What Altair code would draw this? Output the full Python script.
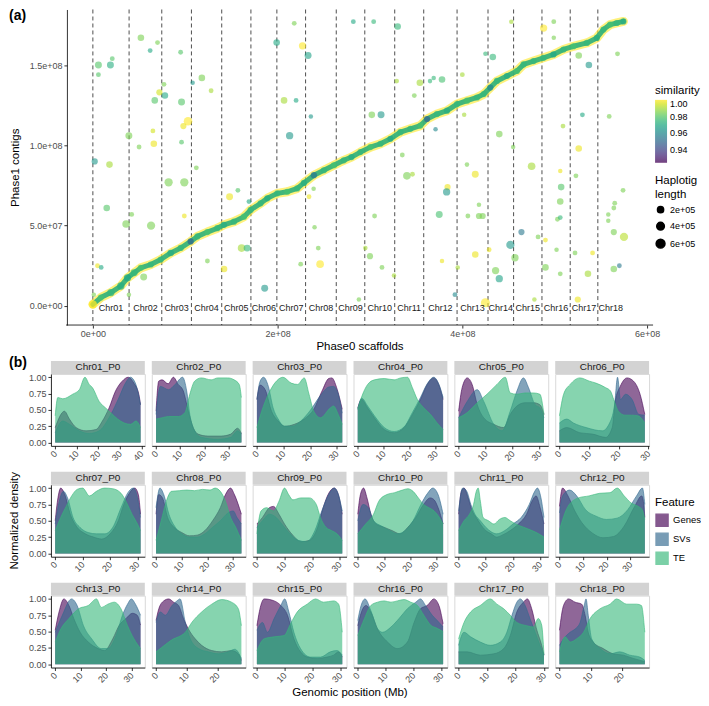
import altair as alt
import pandas as pd

FONT = "Liberation Sans"

# ---------------- panel (a) data ----------------
CHR_NAMES = ["Chr01", "Chr02", "Chr03", "Chr04", "Chr05", "Chr06", "Chr07", "Chr08", "Chr09",
             "Chr10", "Chr11", "Chr12", "Chr13", "Chr14", "Chr15", "Chr16", "Chr17", "Chr18"]
CHR_START_MB = [0.0, 39.2, 74.6, 106.7, 139.5, 171.1, 199.2, 230.3, 263.5,
                294.4, 326.8, 358.2, 394.3, 427.8, 455.5, 486.2, 516.8, 546.7]
GENOME_END_MB = 574.5
X_TICKS = [0, 2e8, 4e8, 6e8]
Y_TICKS = [0, 5e7, 1e8, 1.5e8]

DIAG_X_MB = [0, 8.6, 19.5, 30.3, 37.5, 44.7, 51.9, 62.7, 73.5, 84.3,
             95.1, 105.9, 113.2, 124, 134.8, 142, 152.8, 163.6, 170.8, 181.6,
             188.9, 199.7, 210.5, 221.3, 228.5, 239.3, 250.1, 260.9, 271.7, 280,
             289.7, 300.5, 311.4, 322.2, 333, 343.8, 354.6, 361.8, 372.6, 383.4,
             394.3, 405.1, 415.9, 423.1, 430.3, 437.5, 448.3, 459.1, 466.3, 477.1,
             487.9, 498.7, 509.5, 520.3, 534.8, 545.6, 552.8, 560, 567.2, 574.4]
DIAG_Y_MB = [1, 5.2, 8.3, 12.4, 17.5, 20.6, 23.7, 25.8, 28.9, 33,
             36.1, 40.2, 43.3, 46, 48.4, 50.5, 52.5, 55.6, 59.8, 63.9,
             67, 70.1, 71.1, 73.2, 76.6, 81.4, 84.5, 87.6, 90.7, 92.7,
             95.8, 98.9, 101, 104.1, 108.2, 110.3, 112.3, 116.4, 119.5, 121.6,
             125.7, 127.8, 129.8, 131.9, 136, 140.1, 143.2, 146.3, 150.4, 152.5,
             154.5, 156.6, 159.7, 161.7, 163.8, 166.9, 172.1, 175.2, 176.2, 177.2]
DIAG_SIM = [1.0, 0.978, 0.975, 0.972, 0.97, 0.975, 0.978, 0.975, 0.975, 0.972,
            0.975, 0.95, 0.975, 0.978, 0.975, 0.972, 0.975, 0.978, 0.975, 0.975,
            0.972, 0.975, 0.978, 0.975, 0.972, 0.955, 0.975, 0.978, 0.975, 0.972,
            0.975, 0.978, 0.975, 0.97, 0.975, 0.975, 0.978, 0.95, 0.975, 0.972,
            0.975, 0.978, 0.975, 0.975, 0.96, 0.975, 0.972, 0.978, 0.975, 0.975,
            0.975, 0.97, 0.975, 0.978, 0.975, 0.972, 0.975, 0.978, 0.975, 0.972]
DIAG_LEN_1E5 = [5, 2, 3.5, 3.5, 3.5, 3, 2, 2, 2, 2.5,
                2, 2, 2, 2, 2, 2, 2, 2, 2, 2,
                2, 2, 2, 2, 2, 2, 2, 2, 2, 2,
                2, 2, 2, 2, 2, 2, 2, 2, 2, 2,
                2, 2, 2, 2, 2, 2, 2, 2, 2, 2,
                2, 2, 2, 2, 2, 2, 2, 2, 2, 2]
HALO_COLOR = "#FDE725"   # viridis at similarity 1.00
CORE_COLOR = "#2FAF7B"   # viridis near similarity 0.975

SCAT_X_MB = [6, 6, 19, 21, 52, 70, 62, 95, 77, 78,
             67, 72, 96, 103, 98, 65, 66, 96, 50, 39,
             108, 118, 128, 2, 18, 112, 82, 99, 15, 42,
             36, 63, 99, 148, 157, 169, 161, 167, 124, 142,
             5, 9, 55, 39, 1, 186, 199, 218, 227, 233,
             207, 220, 236, 213, 239, 234, 240, 244, 246, 225,
             282, 288, 304, 330, 329, 354, 365, 369, 378, 348,
             302, 312, 371, 335, 340, 346, 400, 402, 425, 433,
             453, 488, 499, 499, 568, 526, 537, 530, 559, 509,
             440, 455, 526, 475, 405, 414, 506, 523, 507, 384,
             383, 506, 418, 574, 565, 564, 558, 558, 375, 305,
             406, 418, 422, 503, 506, 564, 575, 464, 482, 490,
             452, 295, 300, 429, 414, 457, 502, 522, 541, 378,
             313, 395, 436, 440, 490, 506, 536, 564, 570, 326,
             392, 425, 478, 525]
SCAT_Y_MB = [150, 144, 150, 154, 167, 164, 159, 158, 138, 131,
             128, 133, 127, 115, 112, 109, 101, 102, 99, 106,
             139, 142, 134, 90, 88, 86, 77, 77, 61, 57,
             51, 50, 56, 68, 72, 65, 36, 36, 28, 23,
             25, 24, 18, 7, 7, 11, 164, 176, 162, 156,
             128, 128, 118, 106, 73, 68, 49, 36, 26, 26,
             177, 4, 177, 174, 140, 139, 140, 142, 141, 131,
             119, 119, 110, 94, 81, 82, 144, 119, 157, 155,
             177, 173, 177, 167, 157, 156, 150, 119, 118, 112,
             107, 99, 98, 87, 88, 82, 84, 81, 74, 74,
             71, 65, 63, 72, 64, 61, 57, 53, 57, 56,
             56, 56, 56, 54, 55, 46, 43, 46, 43, 41,
             38, 36, 31, 35, 32, 30, 35, 33, 33, 28,
             24, 24, 22, 17, 24, 20, 20, 23, 25, 19,
             7, 2, 4, 4]
SCAT_SIM = [0.98, 0.98, 0.972, 0.98, 0.985, 0.985, 0.97, 0.98, 0.985, 0.97,
            0.98, 0.995, 0.98, 1.0, 0.998, 0.995, 0.998, 0.98, 0.985, 0.985,
            0.965, 0.985, 0.99, 0.965, 0.99, 0.985, 0.985, 0.985, 0.98, 0.985,
            0.985, 0.985, 0.998, 0.998, 0.98, 0.97, 0.99, 0.975, 0.985, 0.998,
            0.998, 0.97, 0.985, 0.985, 0.985, 0.965, 0.97, 0.985, 1.0, 0.968,
            0.99, 0.97, 0.965, 0.965, 0.985, 0.998, 0.985, 0.985, 1.0, 0.985,
            0.97, 0.985, 0.975, 0.975, 0.99, 0.99, 0.975, 0.975, 0.978, 0.985,
            0.985, 0.965, 0.96, 0.985, 0.985, 0.99, 0.99, 0.99, 0.975, 0.975,
            0.99, 1.0, 0.985, 0.985, 0.985, 0.985, 0.965, 0.97, 0.985, 0.99,
            0.985, 0.985, 0.998, 0.99, 0.985, 0.998, 0.998, 0.985, 0.98, 0.998,
            0.965, 0.985, 0.985, 0.985, 0.985, 0.985, 0.985, 0.985, 0.978, 0.985,
            0.985, 0.985, 0.985, 0.985, 0.975, 0.985, 0.992, 0.955, 0.985, 0.998,
            0.965, 0.99, 0.985, 0.998, 0.998, 0.985, 0.985, 0.985, 0.998, 0.998,
            0.985, 0.99, 0.985, 0.968, 0.985, 0.985, 0.99, 0.985, 0.955, 0.99,
            0.96, 1.0, 0.99, 0.998]
SCAT_LEN_1E5 = [3, 0.5, 3, 0.5, 2.5, 0.5, 0.5, 0.5, 0.5, 2.5,
                2.5, 2, 3, 5.5, 2, 0.5, 2.5, 0.5, 0.5, 3,
                0.2, 2.5, 0.5, 2, 2.5, 0.5, 5, 5, 2.5, 0.5,
                4, 5, 0.5, 3, 0.5, 0.5, 4, 3, 0.5, 2.5,
                0.5, 0.5, 3, 0.2, 0.2, 3, 2.5, 0.5, 3.5, 3,
                2.5, 0.5, 0.2, 3.5, 0.2, 0.5, 0.2, 0.5, 4, 0.5,
                0.5, 0.2, 0.5, 2.5, 0.2, 2.5, 0.2, 0.2, 2.5, 0.5,
                2.5, 3, 0.2, 0.5, 4, 0.5, 0.5, 0.2, 0.2, 2.5,
                0.2, 3.5, 0.5, 0.2, 0.5, 2.5, 2.5, 0.5, 0.5, 0.5,
                2.5, 0.2, 2.5, 4, 0.2, 3, 0.2, 0.5, 2.5, 2,
                3.5, 2.5, 0.2, 0.5, 0.5, 0.5, 0.2, 0.2, 3, 0.5,
                0.5, 2, 2, 0.5, 0.5, 2, 5, 2, 0.5, 0.5,
                5, 0.2, 2, 0.5, 2.5, 3.5, 0.2, 0.5, 0.5, 0.2,
                0.5, 0.2, 3.5, 3.5, 2.5, 0.5, 2.5, 2.5, 0.5, 0.2,
                0.5, 6.5, 0.2, 2]

# ---------------- panel (b) data ----------------
FACET_LEN_MB = [39.6, 35.4, 32.1, 32.8, 31.6, 28.8, 31.1, 33.2, 30.9,
                32.4, 31.4, 36.1, 33.5, 27.7, 30.7, 30.6, 29.9, 27.3]
FEATURES = ["Genes", "SVs", "TE"]
FEATURE_COLORS = ["#440154", "#31688E", "#35B779"]
FACET_X_TICKS = [0, 10, 20, 30, 40]
FACET_Y_TICKS = [0, 0.25, 0.5, 0.75, 1.0]

CHR01_GENES = [(0, 0.23), (4.3, 0.48), (6.6, 0.36), (9.7, 0.23), (14.3, 0.18), (18.9, 0.2), (21.9, 0.33), (25, 0.53), (28, 0.79), (31.1, 0.94), (33.9, 1.0), (36.5, 0.91), (38.8, 0.74), (39.6, 0.58)]
CHR01_SVS = [(0, 0.15), (3.5, 0.33), (6.6, 0.28), (11.2, 0.18), (15.8, 0.14), (20.4, 0.18), (25, 0.38), (29.6, 0.69), (32.6, 0.91), (34.9, 1.0), (37.2, 0.91), (39.6, 0.58)]
CHR01_TE = [(0, 0.41), (1.2, 0.69), (3.5, 0.67), (8.1, 0.74), (11.2, 0.81), (13.8, 1.0), (15.8, 0.89), (17.3, 0.84), (20.4, 0.63), (23.4, 0.53), (26, 0.45), (29, 0.36), (32, 0.3), (35, 0.28), (37.5, 0.33), (39.6, 0.23)]

CHR02_GENES = [(0, 0.48), (1.1, 0.94), (2.5, 0.96), (5, 0.9), (7.2, 1.0), (9.2, 0.89), (11.2, 0.8), (13.4, 0.48), (15.4, 0.23), (17.4, 0.13), (21.5, 0.1), (27, 0.1), (31, 0.13), (33.8, 0.22), (35.4, 0.14)]
CHR02_SVS = [(0, 0.43), (1.8, 0.86), (5.2, 0.81), (7.9, 0.89), (11, 1.0), (12.7, 0.79), (14, 0.43), (16, 0.18), (18.8, 0.08), (25.6, 0.05), (31, 0.08), (33.8, 0.18), (35.4, 0.13)]
CHR02_TE = [(0, 0.36), (2.5, 0.38), (5.2, 0.4), (9.3, 0.4), (12, 0.46), (14, 0.74), (16, 0.94), (18.8, 0.99), (22.9, 0.96), (25.6, 0.99), (29.7, 0.99), (32.4, 0.96), (34.5, 0.89), (35.4, 0.69)]

CHR03_GENES = [(0, 0.66), (1.2, 0.88), (3.1, 0.81), (5.5, 0.48), (8, 0.33), (10.4, 0.25), (14.1, 0.28), (17.8, 0.36), (21.4, 0.51), (24.5, 0.79), (27, 0.98), (28.2, 0.99), (30, 0.84), (32.1, 0.51)]
CHR03_SVS = [(0, 0.66), (1.2, 0.94), (2.5, 1.0), (4.3, 0.86), (6.1, 0.53), (8, 0.36), (10.4, 0.25), (13.5, 0.25), (16.5, 0.33), (20.2, 0.5), (23.9, 0.72), (27, 0.85), (28.8, 0.86), (30.6, 0.74), (32.1, 0.45)]
CHR03_TE = [(0, 0.23), (1.8, 0.48), (4.3, 0.74), (6.7, 0.91), (9.8, 1.0), (12.9, 0.91), (15.3, 0.89), (17.8, 0.99), (19.6, 0.74), (21.4, 0.48), (23.9, 0.38), (27.6, 0.53), (28.8, 0.56), (30.6, 0.43), (32.1, 0.28)]

CHR04_GENES = [(0, 0.53), (1.5, 0.66), (3.8, 0.53), (6.4, 0.38), (10.2, 0.2), (14, 0.15), (17.8, 0.23), (21, 0.43), (24.1, 0.66), (26.7, 0.89), (29.2, 0.99), (31.1, 0.89), (32.8, 0.66)]
CHR04_SVS = [(0, 0.51), (1.5, 0.68), (3.8, 0.56), (6.4, 0.41), (10.2, 0.23), (14, 0.17), (17.8, 0.24), (21, 0.46), (24.1, 0.69), (26.7, 0.9), (29.2, 1.0), (31.1, 0.9), (32.8, 0.69)]
CHR04_TE = [(0, 0.51), (1.5, 0.7), (3.8, 0.89), (6.4, 0.96), (10.2, 0.98), (14, 0.96), (16.5, 0.99), (19.1, 1.0), (21, 0.84), (22.9, 0.66), (25.4, 0.53), (28, 0.43), (30.5, 0.3), (32.8, 0.2)]

CHR05_GENES = [(0, 0.48), (1.3, 0.84), (3.2, 0.99), (5, 0.89), (6.9, 0.58), (9.3, 0.38), (13, 0.28), (16.7, 0.23), (19.1, 0.43), (21.6, 0.56), (24.6, 0.61), (27.7, 0.61), (30.1, 0.58), (31.6, 0.43)]
CHR05_SVS = [(0, 0.38), (3.2, 0.63), (6.9, 0.81), (9.3, 0.63), (13, 0.28), (16.1, 0.18), (19.1, 0.48), (21.6, 0.79), (24, 0.99), (25.9, 0.84), (28.3, 0.58), (30.1, 0.53), (31.6, 0.38)]
CHR05_TE = [(0, 0.38), (3.2, 0.46), (6.9, 0.61), (10.5, 0.74), (14.2, 0.89), (17.3, 1.0), (19.1, 0.76), (21.6, 0.74), (24.6, 0.76), (27.7, 0.76), (30.1, 0.74), (31.6, 0.43)]

CHR06_GENES = [(0, 0.18), (2.5, 0.23), (6.9, 0.15), (11.2, 0.13), (15.6, 0.08), (17.8, 0.23), (18.8, 0.63), (20.5, 0.86), (22.8, 0.99), (25, 0.94), (27.2, 0.74), (28.8, 0.43)]
CHR06_SVS = [(0, 0.3), (2.5, 0.36), (4.7, 0.3), (9, 0.23), (14.5, 0.18), (16.7, 0.28), (18.6, 0.58), (19.6, 1.0), (20.6, 0.66), (22.3, 0.74), (24.5, 0.66), (26.8, 0.43), (28.8, 0.42)]
CHR06_TE = [(0, 0.41), (1.4, 0.74), (3.6, 0.89), (6.9, 0.99), (10.1, 0.94), (12.3, 0.91), (15.6, 0.84), (17.2, 0.79), (18.3, 0.66), (19.9, 0.48), (22.1, 0.42), (24.3, 0.42), (26.5, 0.41), (28.8, 0.3)]

CHR07_GENES = [(0, 0.5), (1, 0.85), (2, 1.0), (3.5, 0.9), (5.5, 0.6), (8, 0.4), (11, 0.3), (14, 0.25), (17, 0.22), (20, 0.3), (23, 0.5), (25, 0.75), (27, 0.92), (29, 1.0), (30.3, 0.9), (31.1, 0.6)]
CHR07_SVS = [(0, 0.45), (1.5, 0.8), (3, 0.95), (4.5, 0.85), (6.5, 0.55), (9, 0.4), (12, 0.32), (15, 0.3), (18, 0.3), (21, 0.4), (24, 0.7), (26.5, 0.93), (28.5, 1.0), (30, 0.85), (31.1, 0.55)]
CHR07_TE = [(0, 0.35), (2, 0.55), (4, 0.72), (6, 0.88), (8, 0.98), (10, 1.0), (12.5, 0.88), (15, 0.95), (18, 1.0), (21, 0.99), (24, 0.92), (26, 0.78), (28, 0.6), (30, 0.45), (31.1, 0.35)]

CHR08_GENES = [(0, 0.6), (1, 0.9), (2.5, 0.85), (4.5, 0.55), (7, 0.4), (10, 0.32), (13, 0.27), (16, 0.28), (19, 0.35), (22, 0.5), (25, 0.7), (27, 0.9), (29, 1.0), (30.5, 0.9), (33.2, 0.6)]
CHR08_SVS = [(0, 0.7), (1.5, 1.0), (3, 0.9), (5, 0.6), (7.5, 0.4), (10, 0.3), (13, 0.25), (16, 0.25), (19, 0.3), (22, 0.4), (25, 0.5), (28, 0.62), (30, 0.65), (31.5, 0.55), (33.2, 0.45)]
CHR08_TE = [(0, 0.2), (2, 0.5), (4, 0.8), (6, 0.95), (9, 0.96), (12, 0.97), (15, 0.96), (18, 0.98), (21, 0.97), (23, 1.0), (25, 0.95), (27, 0.8), (29, 0.55), (31, 0.4), (33.2, 0.2)]

CHR09_GENES = [(0, 0.45), (2, 0.55), (4.5, 0.7), (6, 0.72), (8, 0.6), (10, 0.45), (13, 0.28), (16, 0.18), (19, 0.2), (22, 0.4), (24, 0.7), (26, 0.92), (28, 1.0), (29.5, 0.9), (30.9, 0.6)]
CHR09_SVS = [(0, 0.4), (2, 0.5), (4.5, 0.6), (7, 0.55), (9, 0.45), (12, 0.3), (15, 0.2), (18, 0.18), (21, 0.35), (23.5, 0.65), (26, 0.9), (28, 1.0), (29.5, 0.9), (30.9, 0.65)]
CHR09_TE = [(0, 0.3), (1.5, 0.65), (3.5, 0.7), (6, 0.65), (8, 0.8), (10, 1.0), (11.5, 0.9), (13, 0.82), (16, 0.85), (19, 0.85), (21.5, 0.75), (23, 0.55), (25, 0.4), (27, 0.35), (29, 0.3), (30.9, 0.2)]

CHR10_GENES = [(0, 0.6), (1, 0.9), (2.2, 1.0), (3.5, 0.85), (5, 0.6), (7, 0.45), (10, 0.4), (13, 0.35), (16, 0.3), (19, 0.4), (22, 0.55), (25, 0.75), (27.5, 0.85), (29, 0.82), (30.5, 0.7), (32.4, 0.45)]
CHR10_SVS = [(0, 0.5), (2, 0.75), (4, 0.7), (6, 0.5), (9, 0.42), (12, 0.35), (15, 0.3), (18, 0.35), (21, 0.5), (24, 0.75), (26.5, 0.92), (28.5, 1.0), (30.5, 0.9), (32.4, 0.6)]
CHR10_TE = [(0, 0.3), (3, 0.45), (6, 0.6), (8, 0.8), (11, 0.9), (14, 0.93), (17, 0.97), (19, 0.99), (21, 0.95), (23, 0.85), (25, 0.75), (27, 0.7), (29, 0.65), (31, 0.55), (32.4, 0.45)]

CHR11_GENES = [(0, 0.6), (1, 0.95), (2, 1.0), (3.5, 0.85), (5, 0.65), (6.5, 0.55), (8, 0.45), (10, 0.35), (12, 0.3), (14, 0.25), (16, 0.28), (19, 0.35), (22, 0.45), (25, 0.6), (27, 0.8), (28.5, 0.88), (30, 0.7), (31.4, 0.45)]
CHR11_SVS = [(0, 0.65), (1.5, 1.0), (3, 0.95), (4.5, 0.75), (6, 0.6), (8, 0.5), (10, 0.4), (12, 0.33), (14, 0.3), (17, 0.35), (20, 0.45), (23, 0.55), (26, 0.75), (28, 0.95), (29, 1.0), (30.3, 0.85), (31.4, 0.55)]
CHR11_TE = [(0, 0.35), (2, 0.5), (4, 0.6), (5.5, 0.75), (6.5, 0.95), (7.2, 1.0), (8, 0.8), (9, 0.55), (11, 0.5), (13, 0.45), (15, 0.52), (17, 0.55), (19, 0.5), (21, 0.45), (24, 0.4), (27, 0.35), (29.5, 0.3), (31.4, 0.25)]

CHR12_GENES = [(0, 0.72), (1.3, 1.0), (3.6, 0.88), (6.5, 0.65), (9.5, 0.47), (14, 0.31), (18.4, 0.24), (22.9, 0.26), (27.4, 0.42), (31.8, 0.72), (34.8, 0.88), (35.6, 0.77), (36.1, 0.55)]
CHR12_SVS = [(0, 0.62), (1.3, 0.88), (4.3, 0.97), (7.3, 0.88), (11, 0.67), (15.5, 0.57), (19.9, 0.52), (24.4, 0.54), (28.9, 0.67), (32.6, 0.88), (35.1, 1.0), (36.1, 0.75)]
CHR12_TE = [(0, 0.36), (3.6, 0.72), (8, 0.85), (12.5, 0.88), (17, 0.92), (21.4, 0.93), (24.4, 1.0), (27.4, 0.88), (30.4, 0.77), (33.3, 0.72), (35, 0.67), (36.1, 0.52)]

CHR13_GENES = [(0, 0.52), (1.5, 0.8), (3.4, 1.0), (5.4, 0.9), (7.3, 0.7), (9.8, 0.49), (13, 0.34), (16.9, 0.24), (19.4, 0.21), (22.6, 0.39), (25.2, 0.6), (27.8, 0.7), (30.3, 0.78), (32.2, 0.75), (33.5, 0.6)]
CHR13_SVS = [(0, 0.49), (2.8, 0.75), (6.4, 1.0), (8.6, 0.9), (11.1, 0.59), (14.3, 0.39), (18.1, 0.24), (20.7, 0.24), (23.9, 0.44), (26.4, 0.75), (28.4, 0.92), (29.9, 1.0), (31.5, 0.92), (33.5, 0.75)]
CHR13_TE = [(0, 0.34), (2.2, 0.54), (5.4, 0.7), (9.2, 0.85), (13, 0.9), (16.2, 1.0), (18.1, 0.87), (20.7, 0.92), (23.2, 0.95), (25.8, 0.85), (28.4, 0.59), (30.9, 0.39), (33.5, 0.24)]

CHR14_GENES = [(0, 0.67), (0.9, 0.85), (2.5, 0.97), (4.1, 1.0), (5.7, 0.95), (7.3, 0.9), (8.9, 0.7), (10.5, 0.54), (12.7, 0.39), (14.8, 0.29), (18.1, 0.21), (21.3, 0.19), (24.5, 0.21), (26.7, 0.16), (27.7, 0.06)]
CHR14_SVS = [(0, 0.64), (1.4, 0.8), (3, 0.75), (5.2, 0.9), (6.8, 0.97), (7.8, 1.0), (9.5, 0.64), (11.1, 0.39), (13.8, 0.24), (17, 0.19), (20.2, 0.16), (23.4, 0.19), (25.6, 0.23), (27.7, 0.09)]
CHR14_TE = [(0, 0.19), (1.9, 0.26), (4.1, 0.34), (5.7, 0.39), (7.3, 0.42), (9.5, 0.49), (11.6, 0.64), (14.8, 0.8), (18.1, 0.92), (21.3, 0.99), (24.5, 0.95), (26.7, 0.85), (27.7, 0.59)]

CHR15_GENES = [(0, 0.59), (1.4, 0.9), (2.6, 1.0), (6.2, 0.97), (8.6, 0.9), (11, 0.75), (13.3, 0.39), (15.7, 0.19), (18.1, 0.11), (21.7, 0.09), (25.2, 0.11), (27.6, 0.14), (29.4, 0.19), (30.7, 0.11)]
CHR15_SVS = [(0, 0.52), (2, 0.64), (3.8, 0.49), (6.2, 0.7), (8.6, 0.9), (10, 1.0), (11.5, 0.8), (13.3, 0.49), (15.7, 0.24), (19.3, 0.11), (22.9, 0.11), (26.4, 0.19), (28.8, 0.21), (30.7, 0.14)]
CHR15_TE = [(0, 0.21), (2.6, 0.39), (6.2, 0.42), (9.8, 0.44), (12.1, 0.62), (14.5, 0.8), (18.1, 0.92), (21.1, 1.0), (24, 0.95), (27.6, 0.97), (29.4, 0.92), (30.7, 0.49)]

CHR16_GENES = [(0, 0.59), (1.8, 0.85), (3, 0.9), (4.7, 0.8), (7.1, 0.54), (10.7, 0.34), (14.2, 0.24), (17.8, 0.34), (20.2, 0.64), (22.5, 0.85), (24.9, 0.9), (27.3, 1.0), (29.1, 0.9), (30.6, 0.62)]
CHR16_SVS = [(0, 0.67), (1.2, 0.9), (2.6, 1.0), (4.7, 0.82), (7.1, 0.54), (8.9, 0.49), (11.9, 0.57), (14.8, 0.7), (17.8, 0.85), (20.8, 0.95), (22.5, 1.0), (24.3, 0.9), (26.7, 0.75), (28.5, 0.67), (30.6, 0.57)]
CHR16_TE = [(0, 0.44), (2.4, 0.7), (4.7, 0.9), (7.1, 0.95), (9.5, 0.97), (11.9, 0.95), (14.2, 0.97), (16.6, 0.99), (19, 0.95), (21.4, 0.9), (23.7, 0.75), (26.1, 0.6), (28.5, 0.55), (30.6, 0.5)]

CHR17_GENES = [(0, 0.19), (3, 0.19), (7.6, 0.14), (12.3, 0.16), (15.8, 0.24), (18.1, 0.44), (20.4, 0.8), (22.7, 0.95), (24.1, 1.0), (25.6, 0.85), (27.3, 0.54), (29.1, 0.29), (29.9, 0.14)]
CHR17_SVS = [(0, 0.29), (1.9, 0.49), (4.2, 0.42), (7.6, 0.34), (11.1, 0.29), (14.6, 0.34), (16.9, 0.49), (18.7, 0.75), (20.4, 0.95), (21.6, 1.0), (23.3, 0.9), (25, 0.7), (26.8, 0.49), (28.5, 0.29), (29.9, 0.14)]
CHR17_TE = [(0, 0.39), (1.9, 0.64), (4.2, 0.8), (7.6, 0.9), (11.1, 1.0), (13.4, 0.92), (15.8, 0.85), (18.1, 0.75), (20.4, 0.64), (23.9, 0.59), (26.2, 0.57), (27.9, 0.7), (29.1, 0.6), (29.9, 0.15)]

CHR18_GENES = [(0, 0.52), (1.3, 0.9), (2.9, 1.0), (5, 0.95), (7.1, 0.92), (8.2, 0.75), (9.2, 0.49), (10.8, 0.34), (14, 0.24), (17.2, 0.16), (20.4, 0.14), (23.6, 0.09), (27.3, 0.04)]
CHR18_SVS = [(0, 0.29), (1.3, 0.39), (3.4, 0.49), (5, 0.54), (6.6, 0.64), (7.9, 0.9), (8.5, 1.0), (9.2, 0.75), (10.3, 0.39), (13, 0.24), (16.2, 0.16), (19.3, 0.19), (22.5, 0.14), (25.7, 0.11), (27.3, 0.06)]
CHR18_TE = [(0, 0.19), (1.8, 0.42), (3.4, 0.34), (5.5, 0.39), (7.7, 0.49), (9.8, 0.7), (13, 0.85), (16.2, 0.92), (18.3, 1.0), (21.5, 0.92), (24.7, 0.92), (26.2, 0.9), (27.3, 0.49)]

CURVES = [
    (CHR01_GENES, CHR01_SVS, CHR01_TE), (CHR02_GENES, CHR02_SVS, CHR02_TE),
    (CHR03_GENES, CHR03_SVS, CHR03_TE), (CHR04_GENES, CHR04_SVS, CHR04_TE),
    (CHR05_GENES, CHR05_SVS, CHR05_TE), (CHR06_GENES, CHR06_SVS, CHR06_TE),
    (CHR07_GENES, CHR07_SVS, CHR07_TE), (CHR08_GENES, CHR08_SVS, CHR08_TE),
    (CHR09_GENES, CHR09_SVS, CHR09_TE), (CHR10_GENES, CHR10_SVS, CHR10_TE),
    (CHR11_GENES, CHR11_SVS, CHR11_TE), (CHR12_GENES, CHR12_SVS, CHR12_TE),
    (CHR13_GENES, CHR13_SVS, CHR13_TE), (CHR14_GENES, CHR14_SVS, CHR14_TE),
    (CHR15_GENES, CHR15_SVS, CHR15_TE), (CHR16_GENES, CHR16_SVS, CHR16_TE),
    (CHR17_GENES, CHR17_SVS, CHR17_TE), (CHR18_GENES, CHR18_SVS, CHR18_TE),
]

# ---------------- panel (a) ----------------
MB = 1e6
ends = CHR_START_MB[1:] + [GENOME_END_MB]
chr_df = pd.DataFrame({
    "chr": CHR_NAMES,
    "start": [s * MB for s in CHR_START_MB],
    "mid": [(s + e) / 2 * MB for s, e in zip(CHR_START_MB, ends)],
})
diag_df = pd.DataFrame({
    "x": [v * MB for v in DIAG_X_MB], "y": [v * MB for v in DIAG_Y_MB],
    "similarity": DIAG_SIM, "length": [v * 1e5 for v in DIAG_LEN_1E5],
})
scat_df = pd.DataFrame({
    "x": [v * MB for v in SCAT_X_MB], "y": [v * MB for v in SCAT_Y_MB],
    "similarity": SCAT_SIM, "length": [v * 1e5 for v in SCAT_LEN_1E5],
})

# plot area spans 603 px; the y axis is drawn 16 px inside it so the panels below can start further left
TOP_W, TOP_H, Y_AXIS_INSET = 603, 316, 16
X_LO, X_HI = -45.4e6, 606.5e6
X_AXIS_START = -29e6
Y_LO, Y_HI = -11.9e6, 184.6e6
xs = alt.Scale(domain=[X_LO, X_HI], nice=False, zero=False)
ys = alt.Scale(domain=[Y_LO, Y_HI], nice=False, zero=False)
cs = alt.Scale(scheme="viridis", domain=[0.925, 1.0])
ss = alt.Scale(domain=[0, 7e5], range=[18.5, 88.5])

x_axis = alt.Axis(values=X_TICKS, labelExpr="replace(format(datum.value, '.0e'), 'e+', 'e+0')",
                  title="Phase0 scaffolds", tickSize=3, labelPadding=1, titlePadding=2,
                  labelFlush=False, labelOverlap=False, domain=False, titleX=309)
y_axis = alt.Axis(values=Y_TICKS, labelExpr="replace(format(datum.value, '.1e'), 'e+', 'e+0')",
                  title="Phase1 contigs", tickSize=3, labelPadding=2, titlePadding=9,
                  labelFlush=False, labelOverlap=False, offset=-Y_AXIS_INSET)

color_legend = alt.Legend(title="similarity", type="gradient", orient="none", legendX=605, legendY=76,
                          gradientLength=63, gradientThickness=12, values=[0.94, 0.96, 0.98, 1.0],
                          format=".2f", direction="vertical", gradientStrokeWidth=0,
                          titlePadding=3, labelOffset=3)
size_legend = alt.Legend(title=["Haplotig", "length"], orient="none", legendX=605, legendY=166,
                         values=[2e5, 4e5, 6e5],
                         labelExpr="replace(format(datum.value, '.0e'), 'e+', 'e+0')",
                         symbolFillColor="black", symbolStrokeColor="black", symbolOpacity=1,
                         symbolType="circle", rowPadding=3)

X = lambda f: alt.X(f, scale=xs, axis=x_axis)
Y = lambda f: alt.Y(f, scale=ys, axis=y_axis)
C = alt.Color("similarity:Q", scale=cs, legend=color_legend)
S = alt.Size("length:Q", scale=ss, legend=size_legend)

rules = alt.Chart(chr_df).mark_rule(color="black", strokeDash=[4, 3], strokeWidth=0.7).encode(x=X("start:Q"))
x_line = alt.Chart(pd.DataFrame({"a": [X_AXIS_START], "b": [X_HI]})).mark_rule(
    color="black", strokeWidth=0.8).encode(x=X("a:Q"), x2="b:Q", y=alt.value(TOP_H))
halo = alt.Chart(diag_df).mark_line(strokeWidth=9, opacity=0.6, strokeCap="round", strokeJoin="round",
                                    color=HALO_COLOR).encode(x=X("x:Q"), y=Y("y:Q"))
core = alt.Chart(diag_df).mark_line(strokeWidth=5, opacity=0.9, strokeCap="round", strokeJoin="round",
                                    color=CORE_COLOR).encode(x=X("x:Q"), y=Y("y:Q"))
dpts = alt.Chart(diag_df).mark_circle(opacity=0.75).encode(x=X("x:Q"), y=Y("y:Q"), color=C, size=S)
spts = alt.Chart(scat_df).mark_circle(opacity=0.6).encode(x=X("x:Q"), y=Y("y:Q"), color=C, size=S)
labels = alt.Chart(chr_df).mark_text(fontSize=9, color="#1A1A1A", baseline="middle").encode(
    x=X("mid:Q"), y=alt.datum(-1.5e6), text="chr:N")
tag_a = alt.Chart(pd.DataFrame({"t": ["(a)"]})).mark_text(
    align="left", baseline="top", fontSize=14, fontWeight="bold", color="black").encode(
    x=alt.value(-42), y=alt.value(0), text="t:N")

top = alt.layer(rules, x_line, halo, core, dpts, spts, labels, tag_a).properties(width=TOP_W, height=TOP_H)

# ---------------- panel (b) ----------------
PW, PH = 94, 72
fscale = alt.Scale(domain=FEATURES, range=FEATURE_COLORS)
feat_legend = alt.Legend(title="Feature", orient="none", legendX=605, legendY=123,
                         symbolType="square", symbolSize=150, symbolStrokeWidth=1.2, symbolOpacity=0.65,
                         rowPadding=1, labelFontSize=9.5, titleFontSize=11.5)


def panel(idx):
    name = CHR_NAMES[idx]
    L = FACET_LEN_MB[idx]
    col = idx % 6
    xsc = alt.Scale(domain=[-0.05 * L, 1.05 * L], nice=False, zero=False)
    xax = alt.Axis(values=[t for t in FACET_X_TICKS if t <= 1.05 * L], title=None, labelAngle=315,
                   labelAlign="right", labelBaseline="middle", labelPadding=3, tickSize=3,
                   labelFlush=False, labelOverlap=False)
    if col == 0:
        yax = alt.Axis(values=FACET_Y_TICKS, format=".2f", title=None, tickSize=3, labelPadding=2,
                       labelFlush=False, labelOverlap=False)
    else:
        yax = None
    ysc = alt.Scale(domain=[-0.05, 1.05], nice=False, zero=False)
    layers = []
    for feat, pts in zip(FEATURES, CURVES[idx]):
        df = pd.DataFrame({"pos": [p for p, _ in pts], "dens": [d for _, d in pts], "Feature": feat})
        layers.append(
            alt.Chart(df).mark_area(fillOpacity=0.6, interpolate="monotone",
                                    line={"strokeWidth": 0.6}).encode(
                x=alt.X("pos:Q", scale=xsc, axis=xax),
                y=alt.Y("dens:Q", scale=ysc, stack=None, axis=yax),
                color=alt.Color("Feature:N", scale=fscale, legend=feat_legend),
            )
        )
    sdf = pd.DataFrame({"label": [name + "_P0"]})
    layers.append(alt.Chart(sdf).mark_rect(color="#D3D3D3").encode(
        x=alt.value(0), x2=alt.value(PW), y=alt.value(-13), y2=alt.value(0)))
    layers.append(alt.Chart(sdf).mark_text(fontSize=10, color="#1A1A1A", baseline="middle").encode(
        x=alt.value(PW / 2), y=alt.value(-6.5), text="label:N"))
    if idx == 0:
        layers.append(alt.Chart(pd.DataFrame({"t": ["(b)"]})).mark_text(
            align="left", baseline="middle", fontSize=14, fontWeight="bold", color="black").encode(
            x=alt.value(-42), y=alt.value(-11), text="t:N"))
    if idx == 6:
        layers.append(alt.Chart(pd.DataFrame({"t": ["Normalized density"]})).mark_text(
            angle=270, baseline="middle", fontSize=11.5, color="black").encode(
            x=alt.value(-36), y=alt.value(36), text="t:N"))
    if idx == 14:
        layers.append(alt.Chart(pd.DataFrame({"t": ["Genomic position (Mb)"]})).mark_text(
            baseline="middle", fontSize=11.5, color="black").encode(
            x=alt.value(97.5), y=alt.value(97), text="t:N"))
    return alt.layer(*layers).properties(
        width=PW, height=PH, view=alt.ViewBackground(stroke="#D9D9D9", strokeWidth=1))


grid = alt.concat(*[panel(i) for i in range(18)], columns=6,
                  spacing={"row": 39, "column": 7}, bounds="flush")

chart = (
    alt.vconcat(top, grid, spacing=49, bounds="flush")
    .resolve_scale(color="independent", size="independent")
    .properties(padding=0)
    .configure(font=FONT)
    .configure_axis(labelFont=FONT, titleFont=FONT, labelColor="#4D4D4D", titleColor="black",
                    domainColor="black", tickColor="black", labelFontSize=9, titleFontSize=11.5,
                    titleFontWeight="normal", grid=False, domainWidth=0.8, tickWidth=0.8)
    .configure_legend(labelFont=FONT, titleFont=FONT, titleFontWeight="normal", titleFontSize=11.5,
                      labelFontSize=9, labelColor="black", titleColor="black")
    .configure_view(stroke="transparent")
)

chart.save("out.html", embed_options={"renderer": "svg", "actions": False})
